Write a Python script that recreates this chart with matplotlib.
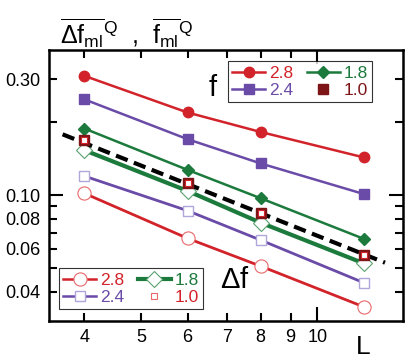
import numpy as np
import matplotlib
matplotlib.use('Agg')
import matplotlib.pyplot as plt
from matplotlib.lines import Line2D

plt.rcParams['font.family'] = ['Liberation Sans', 'DejaVu Sans']
plt.rcParams['mathtext.fontset'] = 'custom'
plt.rcParams['mathtext.rm'] = 'Liberation Sans'
plt.rcParams['mathtext.it'] = 'Liberation Sans'

L = [4, 6, 8, 12]

# f_ml^Q (filled markers)
f_28 = [0.310, 0.219, 0.182, 0.143]
f_24 = [0.248, 0.170, 0.135, 0.101]
f_18 = [0.188, 0.127, 0.097, 0.066]
f_10 = [0.169, 0.112, 0.0845, 0.0566]

# delta f_ml^Q (open markers)
df_28 = [0.1016, 0.0663, 0.0509, 0.0346]
df_24 = [0.1197, 0.0862, 0.0652, 0.0435]
df_18 = [0.153, 0.104, 0.0769, 0.0523]
df_10 = [0.169, 0.112, 0.0845, 0.0566]

# dashed fit line end points
fit_L = [3.67, 13.05]
fit_y = [0.178, 0.0526]

red = '#d2232a'
red_lt = '#e8686b'
purple = '#6a4ba8'
purple_lt = '#b0a6da'
green = '#1b7a3c'
green_lt = '#5aa070'
dred = '#7d1416'

fig = plt.figure(figsize=(4.09, 3.58), dpi=100)
ax = fig.add_axes([0.12, 0.104, 0.865, 0.756])

# Delta f curves (open)
ax.plot(L, df_28, '-', color=red, lw=2, marker='o', ms=9.5, mfc='white', mec=red_lt, mew=0.8, zorder=3)
ax.plot(L, df_24, '-', color=purple, lw=2, marker='s', ms=7, mfc='white', mec=purple_lt, mew=1.0, zorder=3)
ax.plot(L, df_18, '-', color=green, lw=3, marker='D', ms=8, mfc='white', mec=green_lt, mew=0.8, zorder=3)

# f curves (filled)
ax.plot(L, f_28, '-', color=red, lw=1.8, marker='o', ms=7.5, mfc=red, mec=red, zorder=3)
ax.plot(L, f_24, '-', color=purple, lw=1.8, marker='s', ms=7, mfc=purple, mec=purple, zorder=3)
ax.plot(L, f_18, '-', color=green, lw=1.8, marker='D', ms=6.5, mfc=green, mec=green, zorder=3)

ax.plot(fit_L, fit_y, '--', color='black', lw=3, dashes=(3, 1.6), zorder=4)

ax.plot(L, f_10, 's', ms=7, mfc=dred, mec=dred, ls='none', zorder=5)
ax.plot(L, df_10, 's', ms=4.5, mfc='white', mec=red, mew=0.8, ls='none', zorder=6)

ax.set_xscale('log')
ax.set_yscale('log')
ax.set_xlim(3.48, 14.0)
ax.set_ylim(0.0303, 0.396)

ax.set_xticks([10], labels=['10'])
ax.set_xticks([4, 5, 6, 7, 8, 9], labels=['4', '5', '6', '7', '8', '9'], minor=True)
ax.set_yticks([0.1], labels=['0.10'])
ax.set_yticks([0.04, 0.05, 0.06, 0.07, 0.08, 0.09, 0.2, 0.3],
              labels=['0.04', '', '0.06', '', '0.08', '', '', '0.30'], minor=True)

ax.tick_params(which='both', direction='in', top=True, right=True, labelsize=13, width=1.5, pad=6)
ax.tick_params(which='major', length=10)
ax.tick_params(which='minor', length=6)
for s in ax.spines.values():
    s.set_linewidth(1.8)

# legend for f
h_f = [Line2D([], [], color=red, lw=1.8, marker='o', ms=7.5),
       Line2D([], [], color=purple, lw=1.8, marker='s', ms=7),
       Line2D([], [], color=green, lw=1.8, marker='D', ms=6.5),
       Line2D([], [], color=dred, ls='none', marker='s', ms=6.5)]
leg1 = ax.legend(h_f, ['2.8', '2.4', '1.8', '1.0'], ncol=2, loc='upper right',
                 bbox_to_anchor=(0.912, 0.958), fontsize=12.5, frameon=True, fancybox=False,
                 edgecolor='black', handlelength=1.9, handletextpad=0.2, columnspacing=0.8,
                 labelspacing=0.1, borderpad=0.25, borderaxespad=0.0,
                 labelcolor=[red, purple, green, dred])
leg1.get_frame().set_linewidth(0.8)
ax.add_artist(leg1)

h_df = [Line2D([], [], color=red, lw=1.8, marker='o', ms=9.5, mfc='white', mec=red_lt, mew=0.8),
        Line2D([], [], color=purple, lw=1.8, marker='s', ms=7, mfc='white', mec=purple_lt),
        Line2D([], [], color=green, lw=3, marker='D', ms=8, mfc='white', mec=green_lt, mew=0.8),
        Line2D([], [], ls='none', marker='s', ms=4.5, mfc='white', mec=red_lt, mew=0.8)]
leg2 = ax.legend(h_df, ['2.8', '2.4', '1.8', '1.0'], ncol=2, loc='lower left',
                 bbox_to_anchor=(0.028, 0.043), fontsize=12.5, frameon=True, fancybox=False,
                 edgecolor='black', handlelength=1.9, handletextpad=0.2, columnspacing=0.8,
                 labelspacing=0.1, borderpad=0.25, borderaxespad=0.0)
leg2.get_frame().set_linewidth(0.8)
for t, c in zip(leg2.get_texts(), [red, purple, green, red]):
    t.set_color(c)

ax.text(0.463, 0.86, 'f', transform=ax.transAxes, fontsize=21, ha='center', va='center', zorder=10)
ax.text(0.525, 0.15, r'$\Delta$f', transform=ax.transAxes, fontsize=21, ha='center', va='center', zorder=10)

fig.text(0.888, 0.031, 'L', fontsize=19, ha='center', va='center')
fig.text(0.31, 0.905, r'$\overline{\Delta f_{\rm ml}}^{\rm Q}$  ,  $\overline{f_{\rm ml}}^{\rm Q}$',
         fontsize=18, ha='center', va='center')

fig.savefig('out.png', dpi=100)
